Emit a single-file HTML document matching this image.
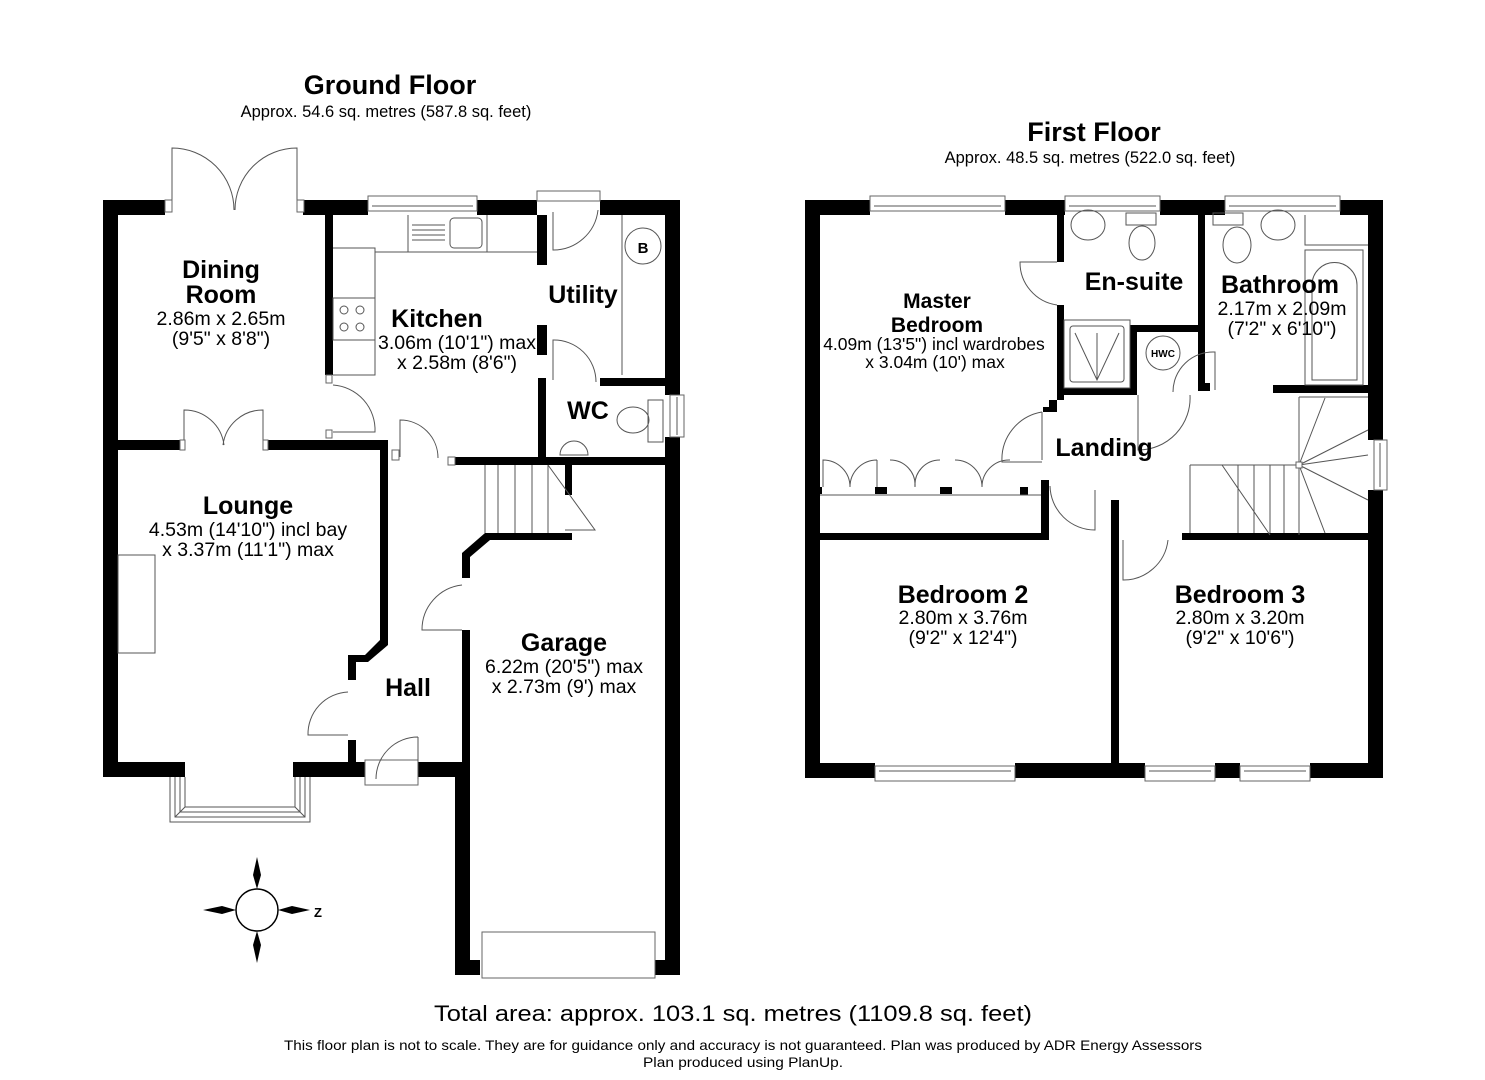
<!DOCTYPE html>
<html><head><meta charset="utf-8"><style>
html,body{margin:0;padding:0;background:#fff;}
svg{display:block;}
text{font-family:"Liberation Sans",Arial,sans-serif;fill:#000;}
.b{font-weight:bold;font-size:25px;}
.s{font-size:19.5px;}
.l{fill:none;stroke:#555;stroke-width:1;}
.w{fill:#000;}
.win{fill:#fff;stroke:#666;stroke-width:1;}
</style></head><body>
<svg width="1485" height="1080" viewBox="0 0 1485 1080" xmlns="http://www.w3.org/2000/svg">
<!-- Titles -->
<text x="390" y="94" text-anchor="middle" style="font-weight:bold;font-size:27px">Ground Floor</text>
<text x="386" y="117" text-anchor="middle" style="font-size:16.5px">Approx. 54.6 sq. metres (587.8 sq. feet)</text>
<text x="1094" y="141" text-anchor="middle" style="font-weight:bold;font-size:27px">First Floor</text>
<text x="1090" y="163" text-anchor="middle" style="font-size:16.5px">Approx. 48.5 sq. metres (522.0 sq. feet)</text>

<!-- ===== GROUND FLOOR ===== -->
<g class="w">
<rect x="103" y="200" width="15" height="577"/>
<rect x="103" y="200" width="62" height="15"/>
<rect x="303" y="200" width="65" height="15"/>
<rect x="477" y="200" width="60" height="15"/>
<rect x="600" y="200" width="80" height="15"/>
<rect x="665" y="200" width="15" height="195"/>
<rect x="665" y="437" width="15" height="538"/>
<rect x="325" y="215" width="8" height="160"/>
<rect x="537" y="215" width="10" height="50"/>
<rect x="537" y="325" width="10" height="30"/>
<rect x="538" y="378" width="8" height="87"/>
<rect x="600" y="378" width="65" height="8"/>
<rect x="118" y="440" width="62" height="10"/>
<rect x="268" y="440" width="120" height="10"/>
<rect x="380" y="440" width="8" height="200"/>
<polygon points="380,635 388,640 388,645 368,662 356,662 356,680 348,680 348,655 365,655 380,640"/>
<rect x="348" y="740" width="8" height="37"/>
<rect x="103" y="762" width="82" height="15"/>
<rect x="293" y="762" width="72" height="15"/>
<rect x="418" y="762" width="45" height="15"/>
<rect x="455" y="762" width="15" height="213"/>
<rect x="462" y="630" width="8" height="140"/>
<rect x="455" y="457" width="210" height="8"/>
<rect x="565" y="464" width="7" height="31"/>
<polygon points="485,533 572,533 572,540 490,540 470,557 470,578 462,578 462,553"/>
<rect x="455" y="960" width="25" height="15"/>
<rect x="655" y="960" width="25" height="15"/>
</g>
<!-- GF windows/doors -->
<rect class="win" x="368" y="196" width="109" height="15"/><line class="l" x1="372" y1="206" x2="473" y2="206"/>
<rect class="win" x="537" y="191" width="63" height="10"/>
<rect class="win" x="670" y="395" width="14" height="42"/><line class="l" x1="677" y1="397" x2="677" y2="435"/>
<rect class="win" x="482" y="932" width="173" height="46"/>
<rect class="win" x="365" y="760" width="53" height="25"/>
<!-- bay -->
<path class="l" d="M170,777 L170,822 L310,822 L310,777 M175,777 L175,817 L305,817 L305,777 M185,777 L185,807 L295,807 L295,777 M175,817 L185,807 M305,817 L295,807 M180,777 L180,812 L300,812 L300,777"/>
<!-- dining doors -->
<path class="l" d="M172,210 L172,148 A62,62 0 0 1 234,210 M297,210 L297,148 A62,62 0 0 0 235,210"/>
<rect class="win" x="165" y="200" width="7" height="12"/><rect class="win" x="297" y="200" width="7" height="12"/>
<path class="l" d="M184,445 L184,410 A40,40 0 0 1 224,445 M263,445 L263,410 A40,40 0 0 0 223,445"/>
<rect class="win" x="180" y="440" width="5" height="10"/><rect class="win" x="263" y="440" width="5" height="10"/>
<!-- kitchen door -->
<path class="l" d="M333,432 L375,432 A45,45 0 0 0 333,385"/>
<rect class="win" x="326" y="375" width="6" height="8"/><rect class="win" x="326" y="430" width="6" height="8"/>
<path class="l" d="M400,457 L400,420 A38,38 0 0 1 438,458"/>
<rect class="win" x="392" y="450" width="7" height="10"/><rect class="win" x="448" y="457" width="7" height="8"/>
<!-- utility doors -->
<path class="l" d="M553,212 L553,250 A45,45 0 0 0 598,210"/>
<path class="l" d="M553,380 L553,340 A42,42 0 0 1 596,382"/>
<!-- kitchen units -->
<path class="l" d="M333,248 L375,248 L375,375 L333,375 M375,252 L537,252 M408,215 L408,252 M487,215 L487,252"/>
<rect class="l" x="450" y="218" width="32" height="30" rx="4"/>
<path class="l" d="M412,225 H445 M412,230 H445 M412,235 H445 M412,240 H445"/>
<rect class="l" x="333" y="298" width="42" height="42"/>
<circle class="l" cx="344" cy="310" r="4"/><circle class="l" cx="360" cy="310" r="4"/><circle class="l" cx="344" cy="327" r="4"/><circle class="l" cx="360" cy="327" r="4"/>
<!-- utility counter/boiler -->
<path class="l" d="M622,215 L622,375"/>
<circle class="l" cx="643" cy="246" r="18"/><text x="643" y="253" text-anchor="middle" style="font-weight:bold;font-size:15px">B</text>
<!-- WC fittings -->
<ellipse class="l" cx="633" cy="420" rx="16" ry="13"/><rect class="l" x="648" y="400" width="15" height="42"/>
<path class="l" d="M560,455 A14,14 0 0 1 588,455 Z"/>
<!-- lounge fireplace -->
<rect class="l" x="118" y="555" width="37" height="98"/>
<!-- stairs GF -->
<path class="l" d="M485,465 L485,533 M498,465 V533 M515,465 V533 M532,465 V533 M548,465 V533 M548,465 L595,530 L565,530"/>
<!-- hall doors -->
<path class="l" d="M348,735 L308,735 A42,42 0 0 1 348,692"/>
<path class="l" d="M418,737 A42,42 0 0 0 376,779 M418,737 L418,779"/>
<path class="l" d="M462,630 L422,630 A45,45 0 0 1 462,585"/>
<!-- compass -->
<circle class="l" cx="257" cy="910" r="21" style="stroke:#000;stroke-width:1.5"/>
<polygon points="257,889 253,875 257,857 261,875" fill="#000"/>
<polygon points="257,931 253,945 257,963 261,945" fill="#000"/>
<polygon points="236,910 222,906 203,910 222,914" fill="#000"/>
<polygon points="278,910 292,906 310,910 292,914" fill="#000"/>
<text x="314" y="917" style="font-size:13px;font-weight:bold">Z</text>

<!-- GF labels -->
<text class="b" x="221" y="278" text-anchor="middle">Dining</text>
<text class="b" x="221" y="303" text-anchor="middle">Room</text>
<text class="s" x="221" y="325" text-anchor="middle">2.86m x 2.65m</text>
<text class="s" x="221" y="345" text-anchor="middle">(9'5" x 8'8")</text>
<text class="b" x="437" y="327" text-anchor="middle">Kitchen</text>
<text class="s" x="457" y="349" text-anchor="middle">3.06m (10'1") max</text>
<text class="s" x="457" y="369" text-anchor="middle">x 2.58m (8'6")</text>
<text class="b" x="583" y="303" text-anchor="middle">Utility</text>
<text class="b" x="588" y="419" text-anchor="middle">WC</text>
<text class="b" x="248" y="514" text-anchor="middle">Lounge</text>
<text class="s" x="248" y="536" text-anchor="middle">4.53m (14'10") incl bay</text>
<text class="s" x="248" y="556" text-anchor="middle">x 3.37m (11'1") max</text>
<text class="b" x="408" y="696" text-anchor="middle">Hall</text>
<text class="b" x="564" y="651" text-anchor="middle">Garage</text>
<text class="s" x="564" y="673" text-anchor="middle">6.22m (20'5") max</text>
<text class="s" x="564" y="693" text-anchor="middle">x 2.73m (9') max</text>

<!-- ===== FIRST FLOOR ===== -->
<g class="w">
<rect x="805" y="200" width="15" height="578"/>
<rect x="1368" y="200" width="15" height="240"/>
<rect x="1368" y="490" width="15" height="288"/>
<rect x="805" y="200" width="65" height="15"/>
<rect x="1005" y="200" width="60" height="15"/>
<rect x="1160" y="200" width="65" height="15"/>
<rect x="1340" y="200" width="43" height="15"/>
<rect x="805" y="763" width="70" height="15"/>
<rect x="1015" y="763" width="130" height="15"/>
<rect x="1215" y="763" width="25" height="15"/>
<rect x="1310" y="763" width="73" height="15"/>
<rect x="1057" y="215" width="7" height="47"/>
<rect x="1057" y="305" width="7" height="95"/>
<polygon points="1057,395 1135,395 1135,388 1064,388 1064,400 1049,400 1049,407 1043,407 1043,412 1057,412"/>
<rect x="1130" y="325" width="75" height="7"/>
<rect x="1130" y="325" width="7" height="70"/>
<rect x="1198" y="215" width="7" height="175"/>
<rect x="1198" y="383" width="12" height="8"/>
<rect x="1273" y="385" width="95" height="8"/>
<rect x="1020" y="487" width="8" height="8"/><rect x="875" y="487" width="12" height="7"/><rect x="940" y="487" width="12" height="7"/><rect x="818" y="487" width="4" height="7"/>
<rect x="1041" y="480" width="8" height="60"/>
<rect x="820" y="533" width="229" height="7"/>
<rect x="1111" y="500" width="8" height="278"/>
<rect x="1182" y="533" width="186" height="7"/>
</g>
<!-- FF windows -->
<rect class="win" x="870" y="196" width="135" height="15"/><line class="l" x1="874" y1="206" x2="1001" y2="206"/>
<rect class="win" x="1065" y="196" width="95" height="15"/><line class="l" x1="1069" y1="206" x2="1156" y2="206"/>
<rect class="win" x="1225" y="196" width="115" height="15"/><line class="l" x1="1229" y1="206" x2="1336" y2="206"/>
<rect class="win" x="875" y="766" width="140" height="15"/><line class="l" x1="879" y1="771" x2="1011" y2="771"/>
<rect class="win" x="1145" y="766" width="70" height="15"/><line class="l" x1="1149" y1="771" x2="1211" y2="771"/>
<rect class="win" x="1240" y="766" width="70" height="15"/><line class="l" x1="1244" y1="771" x2="1306" y2="771"/>
<rect class="win" x="1374" y="440" width="13" height="50"/><line class="l" x1="1380" y1="443" x2="1380" y2="487"/>
<!-- FF fixtures -->
<ellipse class="l" cx="1088" cy="225" rx="17" ry="15"/>
<rect class="l" x="1126" y="213" width="30" height="12"/><ellipse class="l" cx="1142" cy="243" rx="13" ry="17"/>
<rect class="l" x="1064" y="320" width="66" height="68"/><rect class="l" x="1070" y="326" width="54" height="56" rx="3"/>
<path class="l" d="M1075,333 L1097,380 L1119,333 M1097,333 V380"/>
<circle class="l" cx="1163" cy="353" r="17"/><text x="1163" y="357" text-anchor="middle" style="font-size:10px;font-weight:bold">HWC</text>
<rect class="l" x="1213" y="213" width="30" height="12"/><ellipse class="l" cx="1237" cy="245" rx="14" ry="18"/>
<ellipse class="l" cx="1278" cy="225" rx="17" ry="15"/>
<path class="l" d="M1305,215 L1305,245 L1368,245"/>
<rect class="l" x="1305" y="250" width="58" height="135"/>
<path class="l" d="M1312,380 L1312,285 A22,22 0 0 1 1357,285 L1357,380 Z"/>
<!-- FF doors -->
<path class="l" d="M1057,262 L1020,262 A43,43 0 0 0 1057,305"/>
<path class="l" d="M1138,395 L1138,450 A52,52 0 0 0 1190,395"/>
<path class="l" d="M1215,390 L1215,352 A40,40 0 0 0 1173,392"/>
<path class="l" d="M1042,412 L1042,460 M1042,412 A48,48 0 0 0 1002,462 L1042,462"/>
<path class="l" d="M1050,486 A45,45 0 0 0 1095,530 L1095,490"/>
<path class="l" d="M1123,540 L1123,580 A45,45 0 0 0 1168,540"/>
<!-- wardrobes -->
<path class="l" d="M823,487 L823,460 A27,27 0 0 1 850,487 M877,460 L877,487 M877,460 A27,27 0 0 0 850,487 M890,460 A25,25 0 0 1 915,487 M940,460 A25,25 0 0 0 915,487 M955,460 A27,27 0 0 1 982,487 M1010,460 A27,27 0 0 0 982,487 M820,495 L1041,495"/>
<!-- stairs FF -->
<path class="l" d="M1299,397 L1299,535 M1299,397 L1368,397 M1190,465 L1299,465 M1190,465 L1190,533 M1222,465 L1270,535 M1238,465 V533 M1254,465 V533 M1270,465 V533 M1284,465 V533 M1299,465 L1325,398 M1299,465 L1368,430 M1299,465 L1368,500 M1299,465 L1325,533 M1299,465 L1368,455"/>
<rect class="win" x="1296" y="462" width="6" height="6"/>

<!-- FF labels -->
<text class="b" x="937" y="308" text-anchor="middle" style="font-size:21px">Master</text>
<text class="b" x="937" y="332" text-anchor="middle" style="font-size:21px">Bedroom</text>
<text class="s" x="934" y="350" text-anchor="middle" style="font-size:17.5px">4.09m (13'5") incl wardrobes</text>
<text class="s" x="935" y="368" text-anchor="middle" style="font-size:17.5px">x 3.04m (10') max</text>
<text class="b" x="1134" y="290" text-anchor="middle">En-suite</text>
<text class="b" x="1280" y="293" text-anchor="middle">Bathroom</text>
<text class="s" x="1282" y="315" text-anchor="middle">2.17m x 2.09m</text>
<text class="s" x="1282" y="335" text-anchor="middle">(7'2" x 6'10")</text>
<text class="b" x="1104" y="456" text-anchor="middle">Landing</text>
<text class="b" x="963" y="603" text-anchor="middle">Bedroom 2</text>
<text class="s" x="963" y="624" text-anchor="middle">2.80m x 3.76m</text>
<text class="s" x="963" y="644" text-anchor="middle">(9'2" x 12'4")</text>
<text class="b" x="1240" y="603" text-anchor="middle">Bedroom 3</text>
<text class="s" x="1240" y="624" text-anchor="middle">2.80m x 3.20m</text>
<text class="s" x="1240" y="644" text-anchor="middle">(9'2" x 10'6")</text>

<!-- footer -->
<text x="733" y="1021" text-anchor="middle" style="font-size:22px" textLength="598" lengthAdjust="spacingAndGlyphs">Total area: approx. 103.1 sq. metres (1109.8 sq. feet)</text>
<text x="743" y="1050" text-anchor="middle" style="font-size:14px" textLength="918" lengthAdjust="spacingAndGlyphs">This floor plan is not to scale. They are for guidance only and accuracy is not guaranteed. Plan was produced by ADR Energy Assessors</text>
<text x="743" y="1067" text-anchor="middle" style="font-size:14px" textLength="200" lengthAdjust="spacingAndGlyphs">Plan produced using PlanUp.</text>
</svg>
</body></html>
